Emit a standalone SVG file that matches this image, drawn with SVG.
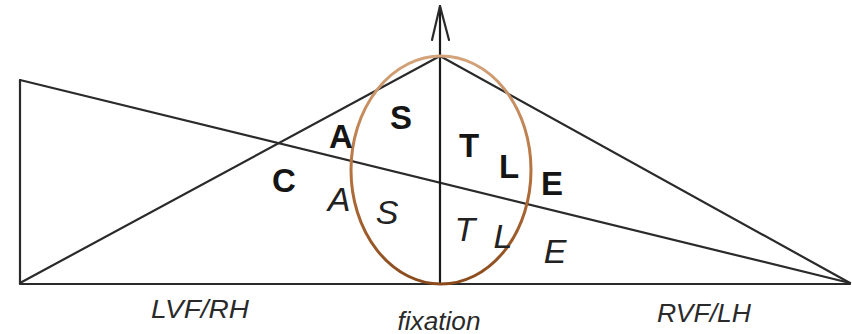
<svg xmlns="http://www.w3.org/2000/svg" width="852" height="334" viewBox="0 0 852 334">
<style>
.ln{fill:none;stroke:#2a2a2a;stroke-width:2.2;stroke-linecap:round;stroke-linejoin:round}
.b{font-family:"Liberation Sans",Arial,sans-serif;font-weight:bold;font-size:33px;fill:#151515;text-anchor:middle}
.i{font-family:"Liberation Sans",Arial,sans-serif;font-style:italic;font-size:34px;fill:#222;text-anchor:middle}
.lab{font-family:"Liberation Sans",Arial,sans-serif;font-style:italic;font-size:25px;fill:#2a2a2a;text-anchor:middle}
</style>
<defs>
<linearGradient id="eg" x1="0" y1="0" x2="0" y2="1">
<stop offset="0" stop-color="#d4a47c"/>
<stop offset="0.5" stop-color="#b5733f"/>
<stop offset="1" stop-color="#8a4a1c"/>
</linearGradient>
</defs>
<rect width="852" height="334" fill="#fff"/>
<g id="connectors">
<path class="ln" d="M20,80 L20,284 L850,284"/>
<path class="ln" d="M20,80 L850,283"/>
<path class="ln" d="M20,283 L440,56 L850,283"/>
<path class="ln" stroke-width="3" d="M440,284 L440,6" style="stroke:#1a1a1a"/>
<path class="ln" d="M432,40 L440,6 L449,40"/>
</g>
<g id="ellipse">
<ellipse cx="441" cy="170" rx="90" ry="114" fill="none" stroke="url(#eg)" stroke-width="3"/>
</g>
<g id="bold-letters">
<text class="b" x="284" y="192">C</text>
<text class="b" x="341" y="148">A</text>
<text class="b" x="401" y="129">S</text>
<text class="b" x="469" y="157">T</text>
<text class="b" x="509" y="178">L</text>
<text class="b" x="552" y="195">E</text>
</g>
<g id="italic-letters">
<text class="i" x="339" y="211">A</text>
<text class="i" x="387" y="224">S</text>
<text class="i" x="465" y="241">T</text>
<text class="i" x="503" y="248">L</text>
<text class="i" x="555" y="263">E</text>
</g>
<g id="labels">
<text class="lab" x="200" y="318" textLength="98" lengthAdjust="spacingAndGlyphs">LVF/RH</text>
<text class="lab" x="439" y="330" font-size="22" textLength="83" lengthAdjust="spacingAndGlyphs">fixation</text>
<text class="lab" x="704" y="322" textLength="94" lengthAdjust="spacingAndGlyphs">RVF/LH</text>
</g>
</svg>
